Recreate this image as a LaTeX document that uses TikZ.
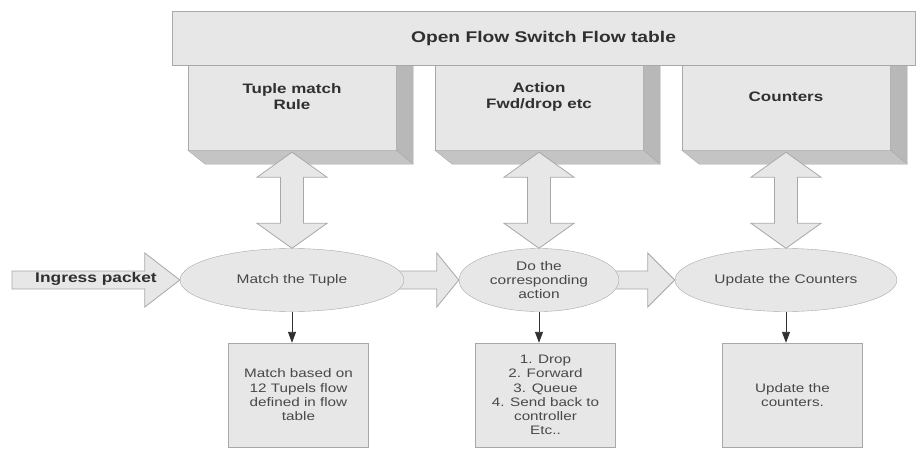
\documentclass[tikz,border=0pt]{standalone}
\usepackage{fontspec}
\setmainfont{Liberation Sans}[FakeStretch=1.24]
\usepackage{tikz}
\usetikzlibrary{shapes.geometric,arrows.meta,backgrounds}
\definecolor{boxfill}{RGB}{231,231,232}
\definecolor{boxline}{RGB}{168,168,168}
\definecolor{sideshade}{RGB}{184,184,184}
\definecolor{bottomshade}{RGB}{196,196,196}
\definecolor{titletext}{RGB}{48,48,48}
\definecolor{bodytext}{RGB}{72,72,72}
\tikzstyle{tablebar}=[rectangle,minimum width=743pt,minimum height=54pt,text centered,
draw=boxline,fill=boxfill,text=titletext,font=\bfseries\fontsize{15.5}{18}\selectfont]
\tikzstyle{fieldbox}=[rectangle,minimum width=208pt,minimum height=85pt,draw=boxline,fill=boxfill]
\tikzstyle{fieldtitle}=[align=center,text=titletext,font=\bfseries\fontsize{13.7}{15.5}\selectfont]
\tikzstyle{sideface}=[fill=sideshade,draw=boxline,line width=0.4pt]
\tikzstyle{bottomface}=[fill=bottomshade,draw=boxline,line width=0.4pt]
\tikzstyle{stage}=[ellipse,minimum height=63pt,inner sep=0pt,align=center,
draw=boxline,fill=boxfill,text=bodytext,font=\fontsize{12.5}{14}\selectfont]
\tikzstyle{result}=[rectangle,minimum width=140pt,minimum height=104pt,align=center,
draw=boxline,fill=boxfill,text=bodytext,font=\fontsize{12.3}{14.3}\selectfont]
\tikzstyle{fatarrow}=[draw=boxline,fill=boxfill,line width=0.8pt]
\tikzstyle{arrow}=[draw=titletext,line width=0.9pt,-{Triangle[length=11pt,width=8pt]}]

\begin{document}
\begin{tikzpicture}[x=1pt,y=-1pt,node distance=247pt]
    \useasboundingbox (0,0) rectangle (916,448);

    % flow table
    \node (r1) [fieldbox] at (292,107.5) {};
    \node (r2) [fieldbox,right of=r1] {};
    \node (r3) [fieldbox,right of=r2] {};
    \fill [sideface] (r1.north east) -- ++(17,0) -- ++(0,99) -- (r1.south east) -- cycle;
    \fill [sideface] (r2.north east) -- ++(17,0) -- ++(0,99) -- (r2.south east) -- cycle;
    \fill [sideface] (r3.north east) -- ++(17,0) -- ++(0,99) -- (r3.south east) -- cycle;
    \draw [bottomface] (r1.south west) -- (r1.south east) -- ++(17,14) -- ++(-208,0) -- cycle;
    \draw [bottomface] (r2.south west) -- (r2.south east) -- ++(17,14) -- ++(-208,0) -- cycle;
    \draw [bottomface] (r3.south west) -- (r3.south east) -- ++(17,14) -- ++(-208,0) -- cycle;
    \node (bar) [tablebar] at (543.5,38) {Open Flow Switch Flow table};
    \node (t1) [fieldtitle] at ([yshift=-32pt]r1.north) {Tuple match\\Rule};
    \node (t2) [fieldtitle] at ([yshift=-32pt]r2.north) {Action\\Fwd/drop etc};
    \node (t3) [fieldtitle] at ([yshift=-32pt]r3.north) {Counters};

    % pipeline
    \coordinate (src) at (12,280);
    \node (ing) [text=titletext,font=\bfseries\fontsize{14}{16}\selectfont] at (96,279) {Ingress packet};
    \node (m1) [stage,minimum width=224pt] at (292,280) {Match the Tuple};
    \node (m2) [stage,minimum width=160pt,right of=m1] {Do the\\corresponding\\action};
    \node (m3) [stage,minimum width=222pt,right of=m2] {Update the Counters};

    \node (d1) [result] at (298.5,395) {Match based on\\12 Tupels flow\\defined in flow\\table};
    \node (d2) [result,right of=d1] {1. Drop\\2. Forward\\3. Queue\\4. Send back to\\controller\\Etc..};
    \node (d3) [result,right of=d2] {Update the\\counters.};

    \begin{scope}[on background layer]
    \draw [fatarrow] ([shift={(0,-9)}]src) -- ([shift={(-35,-9)}]m1.west) -- ++(0,-18) -- (m1.west)
        -- ++(-35,27) -- ++(0,-18) -- ([shift={(0,9)}]src) -- cycle;
    \draw [fatarrow] ([shift={(-8,-9)}]m1.east) -- ([shift={(-22,-9)}]m2.west) -- ++(0,-18) -- (m2.west)
        -- ++(-22,27) -- ++(0,-18) -- ([shift={(-8,9)}]m1.east) -- cycle;
    \draw [fatarrow] ([shift={(-8,-9)}]m2.east) -- ([shift={(-27,-9)}]m3.west) -- ++(0,-18) -- (m3.west)
        -- ++(-27,27) -- ++(0,-18) -- ([shift={(-8,9)}]m2.east) -- cycle;
    \end{scope}

    \draw [fatarrow] ([yshift=-2pt]r1.south) -- ++(35,25) -- ++(-23.5,0) -- ([shift={(11.5,-25)}]m1.north)
        -- ++(23.5,0) -- (m1.north) -- ++(-35,-25) -- ++(23.5,0) -- ([shift={(-11.5,27)}]r1.south) -- ++(-23.5,0) -- cycle;
    \draw [fatarrow] ([yshift=-2pt]r2.south) -- ++(35,25) -- ++(-23.5,0) -- ([shift={(11.5,-25)}]m2.north)
        -- ++(23.5,0) -- (m2.north) -- ++(-35,-25) -- ++(23.5,0) -- ([shift={(-11.5,27)}]r2.south) -- ++(-23.5,0) -- cycle;
    \draw [fatarrow] ([yshift=-2pt]r3.south) -- ++(35,25) -- ++(-23.5,0) -- ([shift={(11.5,-25)}]m3.north)
        -- ++(23.5,0) -- (m3.north) -- ++(-35,-25) -- ++(23.5,0) -- ([shift={(-11.5,27)}]r3.south) -- ++(-23.5,0) -- cycle;

    \draw [arrow] (m1.south) -- (m1.south |- d1.north);
    \draw [arrow] (m2.south) -- (m2.south |- d2.north);
    \draw [arrow] (m3.south) -- (m3.south |- d3.north);

\end{tikzpicture}
\end{document}
